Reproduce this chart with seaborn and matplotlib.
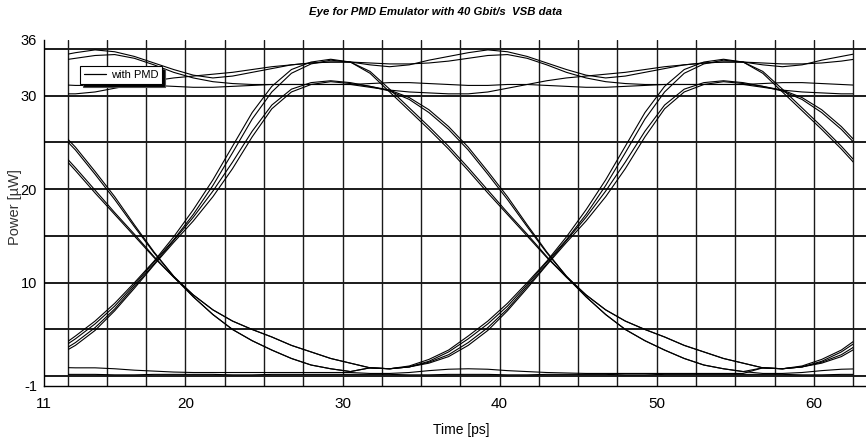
import numpy as np
import pandas as pd
import matplotlib
matplotlib.use("Agg")
import matplotlib.pyplot as plt
import seaborn as sns
from matplotlib.patches import Rectangle
from matplotlib.lines import Line2D
from matplotlib import font_manager as fm

# ---------------- data ----------------
# sample offsets inside one bit slot, relative to the eye crossing [ps]
tau = [-12.5, -11.25, -10.0, -8.75, -7.5, -6.25, -5.0, -3.75, -2.5, -1.25, 0.0,
       1.25, 2.5, 3.75, 5.0, 6.25, 7.5, 8.75, 10.0, 11.25, 12.5]
crossings = [18.0, 43.0, 68.0]          # eye crossing times [ps]
window = [12.5, 62.5]                   # recorded time span [ps]

# waveform shapes over one slot (power in uW)
HUU = [33.6, 33.3, 33.1, 33.3, 33.8, 34.2, 34.6, 34.9, 34.7, 34.2, 33.5, 32.8, 32.2, 31.9, 32.1, 32.5, 32.9, 33.3, 33.5, 33.6, 33.6]
HUW = [33.6, 33.5, 33.4, 33.4, 33.5, 33.7, 34.0, 34.3, 34.4, 34.0, 33.3, 32.5, 31.9, 31.5, 31.3, 31.2, 31.2, 31.2, 31.2, 31.2, 31.2]
HWW = [31.2, 31.3, 31.4, 31.4, 31.3, 31.2, 31.1, 31.1, 31.2, 31.2, 31.1, 31.0, 30.9, 30.9, 31.0, 31.1, 31.2, 31.2, 31.2, 31.2, 31.2]
HWU = [31.2, 30.9, 30.6, 30.4, 30.3, 30.2, 30.2, 30.4, 30.8, 31.2, 31.6, 31.9, 32.1, 32.3, 32.5, 32.8, 33.1, 33.3, 33.5, 33.6, 33.6]
R_FAST = [1.3, 0.9, 0.8, 1.1, 1.8, 2.8, 4.3, 5.9, 7.8, 10.0, 12.3, 14.9, 17.8, 21.0, 24.6, 28.2, 31.0, 32.8, 33.6, 33.9, 33.6]
R_FAST2 = [1.3, 0.9, 0.8, 1.0, 1.6, 2.6, 4.0, 5.6, 7.5, 9.8, 12.2, 14.6, 17.3, 20.4, 23.9, 27.5, 30.4, 32.4, 33.4, 33.8, 33.6]
R_SLOW = [1.3, 0.9, 0.8, 1.0, 1.4, 2.1, 3.3, 4.9, 7.0, 9.4, 11.9, 14.3, 16.6, 19.2, 22.2, 25.6, 28.6, 30.4, 31.2, 31.5, 31.3]
R_SLOW2 = [1.3, 0.9, 0.8, 1.0, 1.5, 2.3, 3.6, 5.2, 7.2, 9.6, 12.0, 14.5, 17.0, 19.8, 22.9, 26.2, 29.0, 30.7, 31.4, 31.6, 31.4]
F_L_HI = [33.6, 32.4, 30.4, 28.4, 26.4, 24.3, 22.0, 19.6, 17.3, 15.0, 12.7, 10.6, 8.7, 7.1, 5.9, 5.0, 4.2, 3.3, 2.6, 1.9, 1.4]
F_L_LO = [33.6, 32.6, 30.7, 28.7, 26.7, 24.6, 22.3, 19.9, 17.5, 15.2, 12.8, 10.6, 8.5, 6.6, 5.0, 3.8, 2.8, 1.9, 1.2, 0.8, 0.5]
F_R_HI = [31.2, 31.0, 30.5, 29.6, 28.2, 26.4, 24.2, 21.6, 18.9, 16.0, 13.2, 10.7, 8.7, 7.1, 5.9, 5.0, 4.2, 3.3, 2.6, 1.9, 1.4]
F_R_LO = [31.2, 31.0, 30.6, 29.8, 28.5, 26.7, 24.5, 21.9, 19.2, 16.2, 13.3, 10.7, 8.5, 6.6, 5.0, 3.8, 2.8, 1.9, 1.2, 0.8, 0.5]
L_SETTLE = [2.0, 1.7, 1.4, 1.2, 1.05, 0.95, 0.9, 0.9, 0.8, 0.65, 0.55, 0.45, 0.4, 0.4, 0.4, 0.4, 0.4, 0.4, 0.4, 0.4, 0.4]
L_BUMP = [0.4, 0.3, 0.3, 0.4, 0.6, 0.75, 0.8, 0.75, 0.6, 0.5, 0.4, 0.35, 0.3, 0.3, 0.3, 0.3, 0.3, 0.3, 0.3, 0.3, 0.3]
L_FLAT = [0.2, 0.2, 0.2, 0.15, 0.15, 0.2, 0.2, 0.2, 0.15, 0.15, 0.2, 0.2, 0.2, 0.2, 0.15, 0.15, 0.2, 0.2, 0.2, 0.2, 0.2]

# which shape each overlaid trace follows in slot 1, 2, 3
slot1 = [HUU, HUW, HWW, HWU, R_FAST, R_FAST2, R_SLOW, R_SLOW2, F_R_HI, F_R_LO, F_L_HI, F_L_LO, L_SETTLE, L_FLAT]
slot2 = [HUU, HWU, HWW, HUW, F_L_HI, F_L_LO, F_R_HI, F_R_LO, R_FAST, R_SLOW, R_SLOW2, R_FAST2, L_BUMP, L_FLAT]
slot3 = [HUU, HUW, HWW, HWU, R_FAST, R_FAST2, R_SLOW, L_BUMP, F_L_HI, F_R_HI, F_R_LO, F_L_LO, R_SLOW2, L_FLAT]

x_tick_values = [11, 20, 30, 40, 50, 60]
y_tick_values = [-1, 10, 20, 30, 36]
legend_label = "with PMD"

# ---------------- build long table ----------------
rows = []
for k, (s1, s2, s3) in enumerate(zip(slot1, slot2, slot3)):
    tt = ([crossings[0] + d for d in tau] + [crossings[1] + d for d in tau[1:]]
          + [crossings[2] + d for d in tau[1:]])
    pp = list(s1) + list(s2[1:]) + list(s3[1:])
    for t, p in zip(tt, pp):
        rows.append((k, t, p))
df = pd.DataFrame(rows, columns=["trace", "time", "power"])

# ---------------- style ----------------
sns.set_style("white")
names = {f.name for f in fm.fontManager.ttflist}
narrow = "Liberation Sans Narrow" if "Liberation Sans Narrow" in names else "Liberation Sans"
plt.rcParams["font.family"] = ["Liberation Sans", "DejaVu Sans"]
for key in ["text.color", "axes.labelcolor", "xtick.color", "ytick.color"]:
    plt.rcParams[key] = "black"

fig = plt.figure(figsize=(8.66, 4.42), dpi=100)
ax = fig.add_axes([44 / 866, 1 - 385.6 / 442, 1 - 44 / 866, (385.6 - 39.6) / 442])

sns.lineplot(data=df, x="time", y="power", units="trace", estimator=None,
             sort=False, color="black", linewidth=0.8, ax=ax, legend=False)

clip = Rectangle((window[0], -5), window[1] - window[0], 50, transform=ax.transData)
for ln in ax.lines:
    ln.set_clip_path(clip)
    ln.set_zorder(3)

ax.set_xlim(11, 63.32)
ax.set_ylim(-1, 36)

ax.xaxis.remove_overlapping_locs = False
ax.yaxis.remove_overlapping_locs = False
ax.set_xticks(x_tick_values)
ax.set_xticks(np.arange(12.5, 62.6, 2.5), minor=True)
ax.set_yticks(y_tick_values)
ax.set_yticks(np.arange(0, 36, 5), minor=True)
ax.set_xticklabels([str(v) for v in x_tick_values], fontsize=11, family=[narrow, "DejaVu Sans"])
ax.set_yticklabels([str(v) for v in y_tick_values], fontsize=10.5)

ax.tick_params(axis="x", which="minor", direction="out", length=4, width=0.8, color="black")
ax.tick_params(axis="y", which="both", direction="out", length=4, width=0.8, color="black", pad=1)
ax.tick_params(axis="x", which="major", length=0, pad=8)

ax.grid(False)
ax.grid(True, which="minor", axis="x", color="#1a1a1a", linewidth=1.0)
ax.grid(True, which="minor", axis="y", color="#1a1a1a", linewidth=1.4)
ax.set_axisbelow(True)

for side in ["top", "right"]:
    ax.spines[side].set_visible(False)
for side in ["left", "bottom"]:
    ax.spines[side].set_color("black")
    ax.spines[side].set_linewidth(1.0)

ax.set_xlabel("")
ax.set_ylabel("")

fig.text(436 / 866, 1 - 12 / 442, "Eye for PMD Emulator with 40 Gbit/s  VSB data",
         ha="center", va="center", fontsize=8.2, fontweight="bold", fontstyle="italic",
         family=[narrow, "DejaVu Sans"], color="black")
fig.text(461 / 866, 1 - 430 / 442, "Time [ps]", ha="center", va="center",
         fontsize=10, family=[narrow, "DejaVu Sans"], color="black")
fig.text(15 / 866, 1 - 207 / 442, "Power [µW]", ha="center", va="center", rotation=90,
         fontsize=10.5, color="#333333")

leg = ax.legend(handles=[Line2D([], [], color="black", linewidth=0.9)], labels=[legend_label],
                loc="upper left", bbox_to_anchor=((80 - 44) / 822, 1 - (66 - 39.6) / 346),
                frameon=True, fancybox=False, shadow={"facecolor": "black", "alpha": 1},
                handlelength=2.0, handletextpad=0.4, borderpad=0.35,
                borderaxespad=0, prop={"family": [narrow, "DejaVu Sans"], "size": 8.0})
leg.get_frame().set_edgecolor("black")
leg.get_frame().set_linewidth(0.8)
for txt in leg.get_texts():
    txt.set_color("black")
leg.set_zorder(10)

fig.savefig("out.png", dpi=100)
